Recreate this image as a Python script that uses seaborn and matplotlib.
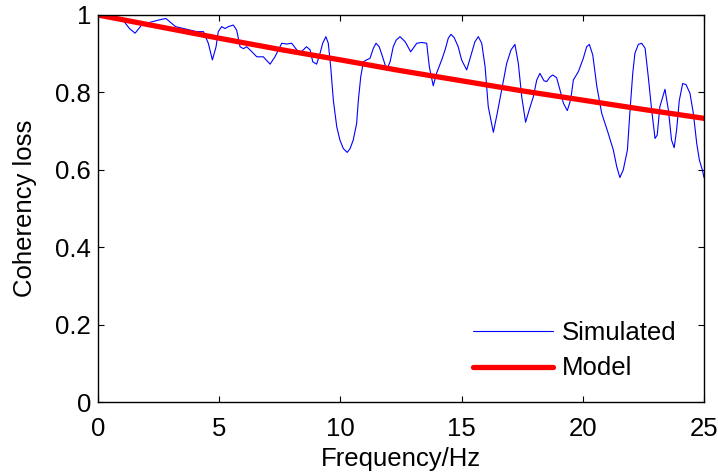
import matplotlib
matplotlib.use("Agg")
import matplotlib.pyplot as plt
import seaborn as sns
import pandas as pd

# Simulated coherency loss
sim_freq = [0.0, 0.5, 1.05, 1.3, 1.53, 1.8, 2.2, 2.5, 2.8, 3.2, 3.8, 4.07, 4.35, 4.55, 4.72, 4.87,
            4.96, 5.1, 5.24, 5.38, 5.58, 5.72, 5.86, 6.0, 6.13, 6.27, 6.55, 6.82, 7.1, 7.3, 7.58,
            7.78, 7.99, 8.2, 8.33, 8.6, 8.75, 8.86, 9.02, 9.16, 9.27, 9.4, 9.5, 9.6, 9.71, 9.85,
            9.98, 10.12, 10.28, 10.4, 10.53, 10.67, 10.74, 10.84, 10.95, 11.08, 11.22, 11.36,
            11.47, 11.6, 11.74, 11.91, 12.05, 12.18, 12.3, 12.46, 12.67, 12.9, 13.15, 13.35,
            13.56, 13.67, 13.83, 13.97, 14.18, 14.32, 14.45, 14.56, 14.69, 14.86, 15.0, 15.21,
            15.39, 15.55, 15.69, 15.83, 15.97, 16.1, 16.31, 16.47, 16.65, 16.86, 17.04, 17.2,
            17.34, 17.48, 17.64, 17.79, 17.96, 18.1, 18.23, 18.4, 18.51, 18.65, 18.76, 18.92,
            19.06, 19.2, 19.36, 19.5, 19.61, 19.82, 20.02, 20.16, 20.27, 20.41, 20.58, 20.78,
            21.05, 21.26, 21.4, 21.53, 21.67, 21.84, 21.95, 22.06, 22.15, 22.29, 22.43, 22.57,
            22.7, 22.84, 22.98, 23.07, 23.18, 23.3, 23.39, 23.53, 23.66, 23.77, 23.87, 23.98,
            24.12, 24.26, 24.42, 24.56, 24.7, 24.81, 24.93, 25.0]
sim_value = [1.0, 0.99, 0.985, 0.965, 0.953, 0.974, 0.982, 0.987, 0.991, 0.970, 0.961, 0.957, 0.957,
             0.927, 0.884, 0.918, 0.957, 0.970, 0.965, 0.970, 0.974, 0.961, 0.918, 0.913, 0.918,
             0.910, 0.892, 0.892, 0.873, 0.892, 0.927, 0.925, 0.927, 0.910, 0.901, 0.918, 0.91,
             0.879, 0.873, 0.901, 0.927, 0.944, 0.927, 0.866, 0.779, 0.711, 0.677, 0.655, 0.645,
             0.655, 0.677, 0.720, 0.779, 0.841, 0.879, 0.884, 0.888, 0.914, 0.927, 0.918, 0.892,
             0.858, 0.879, 0.918, 0.935, 0.944, 0.931, 0.905, 0.927, 0.929, 0.927, 0.866, 0.817,
             0.85, 0.884, 0.910, 0.940, 0.950, 0.942, 0.918, 0.884, 0.858, 0.897, 0.931, 0.944,
             0.927, 0.866, 0.763, 0.697, 0.746, 0.806, 0.875, 0.910, 0.924, 0.875, 0.789, 0.723,
             0.755, 0.789, 0.832, 0.849, 0.83, 0.828, 0.84, 0.845, 0.838, 0.806, 0.772, 0.753,
             0.781, 0.832, 0.854, 0.888, 0.918, 0.924, 0.897, 0.815, 0.746, 0.694, 0.651, 0.608,
             0.580, 0.60, 0.651, 0.755, 0.849, 0.901, 0.924, 0.927, 0.914, 0.841, 0.755, 0.681,
             0.69, 0.763, 0.789, 0.808, 0.755, 0.677, 0.657, 0.703, 0.779, 0.823, 0.82, 0.798,
             0.746, 0.668, 0.625, 0.6, 0.58]

# Model curve
model_freq = [0, 2.5, 5, 7.5, 10, 12.5, 15, 17.5, 20, 22.5, 25]
model_value = [1.0, 0.970, 0.940, 0.911, 0.884, 0.856, 0.830, 0.804, 0.780, 0.756, 0.733]

x_ticks = [0, 5, 10, 15, 20, 25]
y_ticks = [0, 0.2, 0.4, 0.6, 0.8, 1.0]
y_tick_labels = ["0", "0.2", "0.4", "0.6", "0.8", "1"]

sns.set_style("ticks")
plt.rcParams["font.family"] = ["Liberation Sans", "DejaVu Sans"]
plt.rcParams["text.color"] = "black"
plt.rcParams["axes.labelcolor"] = "black"

FS = 18.5

df_sim = pd.DataFrame({"Frequency": sim_freq, "Value": sim_value})
df_model = pd.DataFrame({"Frequency": model_freq, "Value": model_value})

fig = plt.figure(figsize=(7.18, 4.74), dpi=100)
ax = fig.add_axes([98 / 718, 1 - 402 / 474, (704 - 98) / 718, (402 - 15) / 474])

sns.lineplot(data=df_sim, x="Frequency", y="Value", ax=ax, color="#0000ff",
             linewidth=0.8, label="Simulated", estimator=None, sort=False)
sns.lineplot(data=df_model, x="Frequency", y="Value", ax=ax, color="#ff0000",
             linewidth=3.8, label="Model", estimator=None, sort=False)

ax.set_xlim(0, 25)
ax.set_ylim(0, 1)
ax.set_xticks(x_ticks)
ax.set_xticklabels([str(t) for t in x_ticks])
ax.set_yticks(y_ticks)
ax.set_yticklabels(y_tick_labels)
ax.tick_params(direction="in", length=4, width=0.8, labelsize=FS, top=True, right=True,
               colors="black", pad=5)
ax.tick_params(axis="x", pad=11)
for s in ax.spines.values():
    s.set_visible(True)
    s.set_linewidth(1.0)
    s.set_color("black")

ax.set_xlabel("Frequency/Hz", fontsize=FS, labelpad=4)
ax.set_ylabel("Coherency loss", fontsize=FS, labelpad=13)

leg = ax.legend(loc="lower right", frameon=False, fontsize=FS, handlelength=3.1,
                labelspacing=0.45, handletextpad=0.35, borderaxespad=0.0,
                bbox_to_anchor=(0.972, 0.029))

fig.savefig("out.png", dpi=100)
